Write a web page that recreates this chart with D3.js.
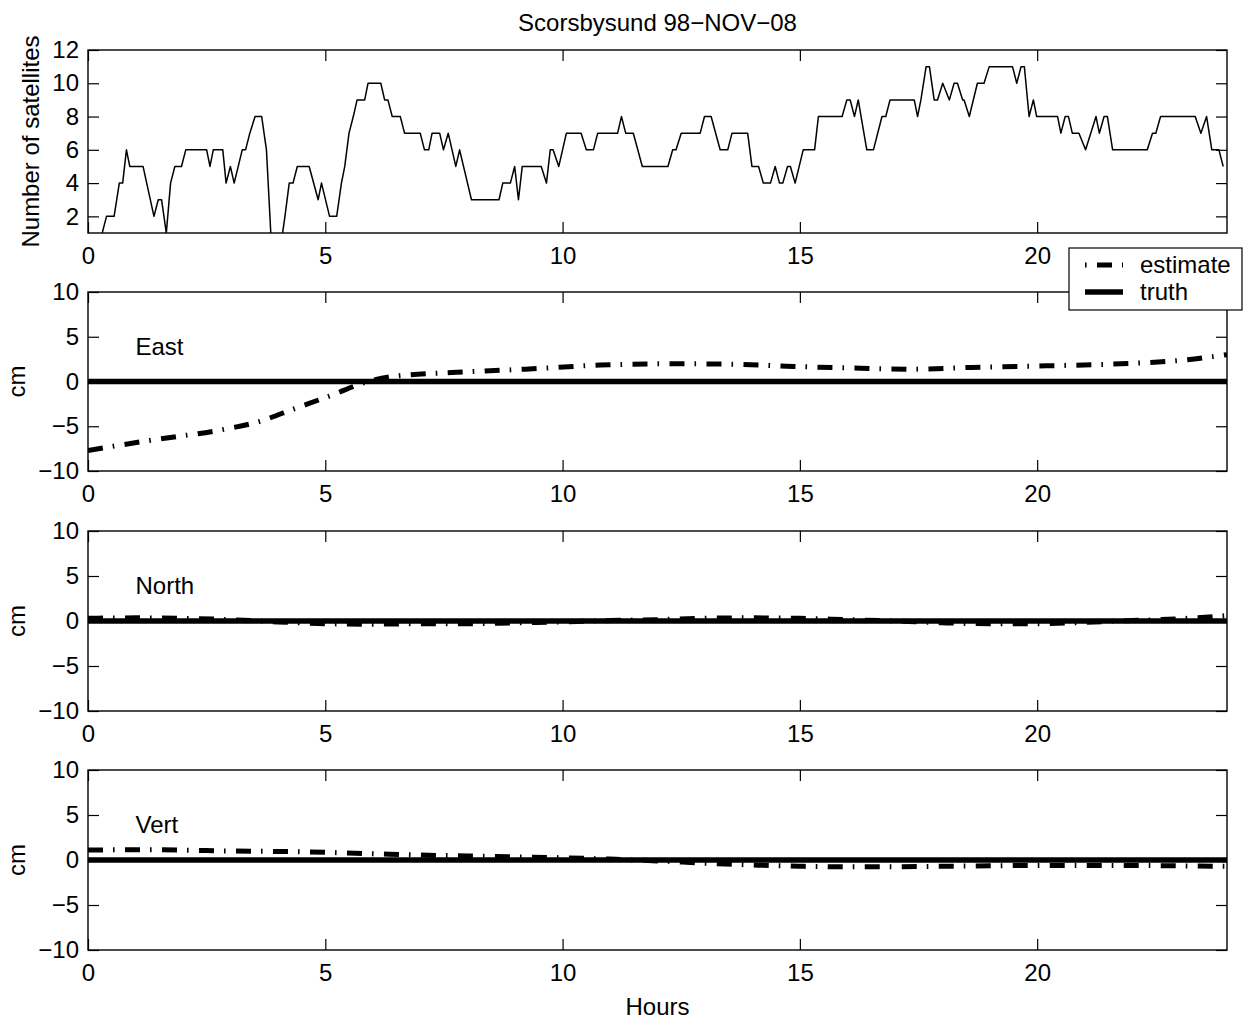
<!DOCTYPE html>
<html>
<head>
<meta charset="utf-8">
<script src="https://cdn.jsdelivr.net/npm/d3@7"></script>
<style>
  html, body { margin: 0; padding: 0; background: #fff; }
  svg { display: block; }
  text { font-family: "Liberation Sans", Arial, Helvetica, sans-serif; fill: #000; }
</style>
</head>
<body>
<svg id="chart" width="1253" height="1021"></svg>
<script>
// ---- data -------------------------------------------------------------
const titleText = "Scorsbysund 98\u2212NOV\u221208";
const xTicks = [0, 5, 10, 15, 20];
const satTicks = [2, 4, 6, 8, 10, 12];
const cmTicks = [-10, -5, 0, 5, 10];

// number of tracked satellites: [hour, count]
const satHours = [0.30,0.39,0.55,0.66,0.73,0.81,0.88,1.16,1.39,1.48,1.55,1.65,1.74,1.83,1.97,2.06,2.50,2.57,2.64,2.84,2.91,3.00,3.08,3.25,3.32,3.41,3.52,3.66,3.76,3.87,4.05,4.15,4.24,4.32,4.41,4.66,4.85,4.92,5.09,5.24,5.34,5.41,5.50,5.59,5.67,5.83,5.90,6.17,6.25,6.32,6.41,6.58,6.67,7.00,7.09,7.18,7.25,7.41,7.49,7.59,7.75,7.83,8.08,8.66,8.74,8.90,8.99,9.07,9.15,9.55,9.66,9.74,9.80,9.92,10.08,10.39,10.50,10.65,10.74,11.16,11.24,11.33,11.49,11.68,12.22,12.32,12.39,12.50,12.90,12.99,13.13,13.32,13.48,13.57,13.90,13.99,14.13,14.23,14.38,14.48,14.57,14.64,14.74,14.80,14.90,15.07,15.31,15.39,15.89,15.99,16.06,16.15,16.23,16.29,16.41,16.55,16.73,16.81,16.90,17.41,17.48,17.55,17.66,17.73,17.83,17.90,18.01,18.15,18.25,18.32,18.43,18.46,18.57,18.74,18.88,18.99,19.48,19.57,19.66,19.73,19.83,19.92,19.99,20.43,20.50,20.59,20.66,20.74,20.88,21.02,21.24,21.31,21.41,21.48,21.59,22.32,22.43,22.50,22.60,23.33,23.45,23.57,23.68,23.83,23.92];
const satCounts = [1,2,2,4,4,6,5,5,2,3,3,1,4,5,5,6,6,5,6,6,4,5,4,6,6,7,8,8,6,0,0,2,4,4,5,5,3,4,2,2,4,5,7,8,9,9,10,10,9,9,8,8,7,7,6,6,7,7,6,7,5,6,3,3,4,4,5,3,5,5,4,6,6,5,7,7,6,6,7,7,8,7,7,5,5,6,6,7,7,8,8,6,6,7,7,5,5,4,4,5,4,4,5,5,4,6,6,8,8,9,9,8,9,8,6,6,8,8,9,9,8,9,11,11,9,9,10,9,10,10,9,9,8,10,10,11,11,10,11,11,8,9,8,8,7,8,8,7,7,6,8,7,8,8,6,6,7,7,8,8,7,8,6,6,5];

// position estimates (cm) against the hour of day
const estHours = [0,1.40,2.81,3.59,4.37,5.15,5.78,6.41,7.66,9.22,10.79,12.35,13.45,14.86,16.27,17.36,18.61,20.18,21.75,23.0,24.0];
const eastEst  = [-7.7,-6.5,-5.4,-4.5,-3.0,-1.5,-0.2,0.56,1.0,1.38,1.83,1.98,1.94,1.68,1.49,1.38,1.57,1.75,1.98,2.35,3.0];

const compHours = [0,1,2,3,4,5,6,7,8,9,10,11,12,13,14,15,16,17,18,19,20,21,22,23,24];
const northEst = [0.3,0.35,0.3,0.15,-0.1,-0.3,-0.35,-0.3,-0.3,-0.2,-0.1,0.05,0.15,0.3,0.35,0.3,0.15,0,-0.2,-0.3,-0.3,-0.15,0.05,0.25,0.6];
const vertEst  = [1.1,1.15,1.1,1.0,0.95,0.85,0.7,0.55,0.45,0.35,0.25,0.1,-0.1,-0.35,-0.55,-0.7,-0.75,-0.75,-0.7,-0.65,-0.6,-0.6,-0.6,-0.65,-0.7];

// reference (true) offsets
const truthHours = [0, 24];
const truthValues = [0, 0];

const componentNames = ["East", "North", "Vert"];
const legendLabels = ["estimate", "truth"];

// ---- layout -----------------------------------------------------------
const svg = d3.select("#chart");
svg.append("rect").attr("width", 1253).attr("height", 1021).attr("fill", "#fff");

const left = 88, right = 1227;
const FONT = 24;
const TICK = 11;
const panelBoxes = [
  { top: 50,  bottom: 233 },
  { top: 292, bottom: 471 },
  { top: 531, bottom: 711 },
  { top: 770, bottom: 950 }
];
const DASHDOT = "15,10,1.6,10.4";

const x = d3.scaleLinear().domain([0, 24]).range([left, right]);

function styleAxis(g) {
  g.select(".domain").remove();
  g.selectAll(".tick line").attr("stroke", "#000").attr("stroke-width", 1.2);
  g.selectAll("text").attr("font-size", FONT)
    .attr("font-family", "'Liberation Sans', Arial, Helvetica, sans-serif").attr("fill", "#000");
}

function drawFrame(box, y, yTicks, id) {
  const g = svg.append("g");
  svg.append("clipPath").attr("id", id)
    .append("rect").attr("x", left).attr("y", box.top)
    .attr("width", right - left).attr("height", box.bottom - box.top);

  g.append("g").attr("transform", `translate(0,${box.bottom})`)
    .call(d3.axisBottom(x).tickValues(xTicks).tickSize(-TICK).tickPadding(14).tickFormat(d3.format("d")))
    .call(styleAxis);
  g.append("g").attr("transform", `translate(0,${box.top})`)
    .call(d3.axisTop(x).tickValues(xTicks).tickSize(-TICK).tickFormat(""))
    .call(styleAxis);
  g.append("g").attr("transform", `translate(${left},0)`)
    .call(d3.axisLeft(y).tickValues(yTicks).tickSize(-TICK).tickPadding(9))
    .call(styleAxis);
  g.append("g").attr("transform", `translate(${right},0)`)
    .call(d3.axisRight(y).tickValues(yTicks).tickSize(-TICK).tickFormat(""))
    .call(styleAxis);

  g.append("rect").attr("x", left).attr("y", box.top)
    .attr("width", right - left).attr("height", box.bottom - box.top)
    .attr("fill", "none").attr("stroke", "#000").attr("stroke-width", 1.4);
  return g;
}

// ---- satellites panel -------------------------------------------------
{
  const box = panelBoxes[0];
  const y = d3.scaleLinear().domain([1, 12]).range([box.bottom, box.top]);
  const pts = satHours.map((h, i) => [h, satCounts[i]]);
  svg.append("path").datum(pts)
    .attr("clip-path", "url(#clip0)")
    .attr("fill", "none").attr("stroke", "#000").attr("stroke-width", 1.5)
    .attr("stroke-linejoin", "round")
    .attr("d", d3.line().x(d => x(d[0])).y(d => y(d[1])));
  drawFrame(box, y, satTicks, "clip0");

  svg.append("text").attr("transform", `translate(39,${(box.top + box.bottom) / 2}) rotate(-90)`)
    .attr("text-anchor", "middle").attr("font-size", FONT).text("Number of satellites");
  svg.append("text").attr("x", (left + right) / 2).attr("y", 31)
    .attr("text-anchor", "middle").attr("font-size", FONT).text(titleText);
}

// ---- position component panels ---------------------------------------
const estSeries = [
  estHours.map((h, i) => [h, eastEst[i]]),
  compHours.map((h, i) => [h, northEst[i]]),
  compHours.map((h, i) => [h, vertEst[i]])
];

componentNames.forEach((name, k) => {
  const box = panelBoxes[k + 1];
  const y = d3.scaleLinear().domain([-10, 10]).range([box.bottom, box.top]);
  const clipId = "clip" + (k + 1);
  const smooth = d3.line().curve(d3.curveMonotoneX).x(d => x(d[0])).y(d => y(d[1]));

  svg.append("path").datum(truthHours.map((h, i) => [h, truthValues[i]]))
    .attr("fill", "none").attr("stroke", "#000").attr("stroke-width", 5.5)
    .attr("clip-path", `url(#${clipId})`)
    .attr("d", d3.line().x(d => x(d[0])).y(d => y(d[1])));

  svg.append("path").datum(estSeries[k])
    .attr("fill", "none").attr("stroke", "#000").attr("stroke-width", 5)
    .attr("stroke-dasharray", DASHDOT)
    .attr("clip-path", `url(#${clipId})`)
    .attr("d", smooth);

  drawFrame(box, y, cmTicks, clipId);

  svg.append("text").attr("x", x(1)).attr("y", y(3))
    .attr("font-size", FONT).text(name);
  svg.append("text").attr("transform", `translate(25,${(box.top + box.bottom) / 2}) rotate(-90)`)
    .attr("text-anchor", "middle").attr("font-size", FONT).text("cm");
});

svg.append("text").attr("x", (left + right) / 2).attr("y", 1015)
  .attr("text-anchor", "middle").attr("font-size", FONT).text("Hours");

// ---- legend -----------------------------------------------------------
{
  const lg = svg.append("g").attr("transform", "translate(1069,248)");
  lg.append("rect").attr("width", 173).attr("height", 62)
    .attr("fill", "#fff").attr("stroke", "#000").attr("stroke-width", 1.2);
  const rows = [
    { y: 17, dash: DASHDOT, offset: 25, w: 5 },
    { y: 44, dash: null, offset: 0, w: 5.5 }
  ];
  rows.forEach((r, i) => {
    const ln = lg.append("line").attr("x1", 16).attr("x2", 54)
      .attr("y1", r.y).attr("y2", r.y)
      .attr("stroke", "#000").attr("stroke-width", r.w);
    if (r.dash) ln.attr("stroke-dasharray", r.dash).attr("stroke-dashoffset", r.offset);
    lg.append("text").attr("x", 71).attr("y", r.y + 8)
      .attr("font-size", FONT).text(legendLabels[i]);
  });
}
</script>
</body>
</html>
